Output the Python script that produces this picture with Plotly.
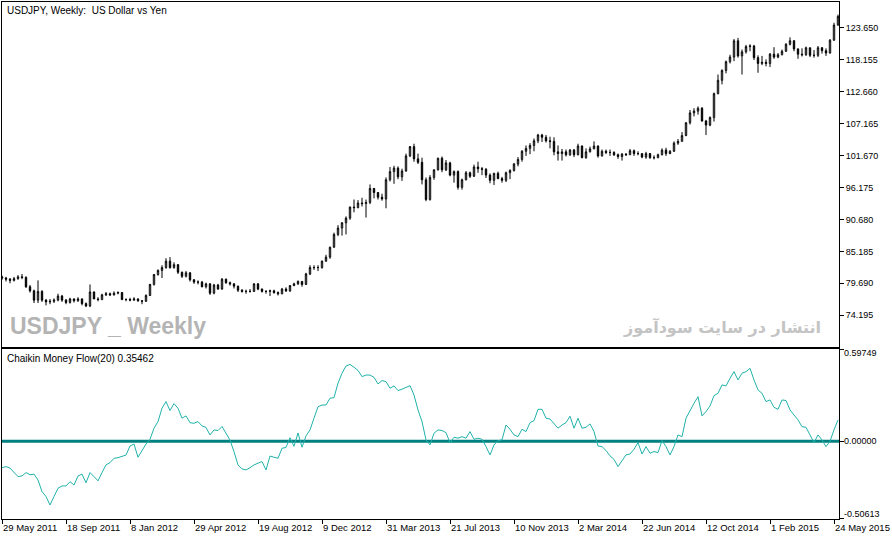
import pandas as pd
import plotly.graph_objects as go

# ---------------- data ----------------
dates = pd.date_range("2011-05-29", periods=210, freq="7D")

opens = [
    80.8, 80.6, 80.4, 80.2, 80.5, 80.8, 80.7, 79.1, 78.4, 76.8,
    78.3, 76.8, 76.5, 76.6, 76.8, 77.5, 76.8, 76.4, 77.0, 76.7,
    77.0, 76.2, 75.8, 78.2, 77.0, 76.9, 77.7, 77.9, 77.7, 78.0,
    78.1, 76.9, 76.9, 76.8, 77.0, 76.7, 76.6, 77.6, 79.5, 81.2,
    81.9, 82.4, 83.5, 82.4, 82.9, 81.6, 80.9, 81.5, 80.3, 79.9,
    79.9, 79.1, 79.6, 78.0, 79.4, 78.7, 80.4, 79.8, 79.6, 79.2,
    78.5, 78.3, 78.3, 78.3, 79.6, 78.7, 78.3, 78.3, 78.4, 78.1,
    77.9, 78.7, 78.4, 79.3, 79.6, 80.0, 79.5, 81.3, 82.4, 82.4,
    82.4, 83.5, 84.2, 85.9, 88.1, 89.2, 90.1, 90.9, 92.8, 92.7,
    93.5, 93.4, 93.6, 96.0, 95.3, 94.5, 94.2, 97.5, 98.9, 99.5,
    98.0, 99.0, 101.6, 103.2, 101.1, 100.5, 97.5, 94.1, 97.9, 99.2,
    101.2, 99.2, 100.4, 98.3, 98.9, 96.2, 97.5, 98.7, 98.1, 99.7,
    99.4, 99.3, 98.3, 97.4, 98.6, 97.7, 97.4, 98.7, 99.1, 100.2,
    101.0, 102.4, 102.9, 103.4, 104.2, 105.2, 104.8, 104.2, 104.1, 102.3,
    102.0, 102.3, 101.8, 102.6, 101.8, 103.3, 101.3, 102.3, 102.8, 103.3,
    101.6, 102.4, 102.2, 102.2, 101.8, 101.5, 101.9, 101.8, 102.5, 102.0,
    102.0, 101.4, 102.0, 101.3, 101.3, 101.8, 102.6, 102.0, 102.4, 103.8,
    104.1, 105.1, 107.3, 109.0, 109.3, 109.8, 107.6, 106.9, 108.2, 112.3,
    114.6, 116.3, 117.8, 118.6, 121.4, 118.8, 119.5, 120.4, 120.5, 118.5,
    117.5, 117.7, 117.5, 119.1, 118.6, 119.0, 119.6, 120.8, 121.4, 120.0,
    119.1, 119.0, 120.2, 118.9, 118.9, 120.2, 119.7, 119.3, 121.5, 124.1,
]

highs = [
    81.0, 80.8, 80.6, 80.8, 81.1, 81.3, 80.9, 79.4, 78.6, 80.2,
    78.5, 77.0, 77.0, 77.1, 77.9, 77.7, 77.0, 77.2, 77.1, 77.3,
    77.1, 76.4, 79.5, 78.3, 77.3, 77.9, 78.2, 78.1, 78.3, 78.3,
    78.2, 77.1, 77.2, 77.3, 77.1, 76.8, 77.8, 79.6, 81.3, 82.1,
    82.8, 84.0, 84.2, 83.3, 83.0, 81.7, 81.8, 81.6, 80.4, 80.2,
    80.1, 79.8, 79.7, 79.6, 79.6, 80.6, 80.5, 80.0, 79.7, 79.3,
    78.7, 78.6, 78.7, 79.7, 79.7, 78.8, 78.5, 78.6, 78.6, 78.3,
    78.9, 79.0, 79.4, 79.8, 80.2, 80.1, 81.5, 82.8, 82.8, 82.8,
    83.6, 84.6, 86.0, 88.4, 89.7, 90.2, 91.2, 92.9, 94.1, 94.0,
    94.4, 94.1, 96.7, 96.1, 95.4, 95.1, 97.9, 99.7, 99.9, 99.8,
    99.4, 102.0, 103.3, 103.7, 102.0, 101.3, 97.9, 98.3, 99.3, 101.3,
    101.5, 100.9, 100.6, 99.1, 99.1, 97.7, 99.0, 98.9, 100.1, 100.6,
    99.7, 99.5, 98.6, 98.7, 98.9, 98.0, 98.9, 99.3, 100.4, 101.4,
    102.6, 103.4, 103.8, 104.6, 105.4, 105.4, 105.2, 104.9, 104.8, 103.4,
    102.8, 102.7, 102.8, 102.8, 103.7, 103.4, 102.9, 103.2, 104.1, 103.4,
    102.7, 102.7, 102.7, 102.4, 102.0, 102.1, 102.1, 102.8, 102.7, 102.4,
    102.0, 102.3, 102.1, 101.7, 102.0, 102.9, 103.0, 102.6, 104.1, 104.5,
    105.7, 107.4, 109.5, 109.8, 110.1, 110.0, 107.8, 108.4, 112.5, 115.6,
    116.5, 118.0, 119.0, 121.7, 121.9, 119.9, 120.7, 120.8, 120.7, 118.9,
    118.8, 118.2, 119.3, 120.3, 119.3, 119.9, 121.0, 122.0, 121.5, 120.1,
    120.1, 120.4, 120.2, 119.8, 120.5, 120.3, 120.1, 121.7, 124.5, 125.9,
]

lows = [
    80.3, 80.0, 79.7, 80.0, 80.3, 80.4, 78.9, 78.1, 76.3, 76.3,
    76.5, 75.9, 76.1, 76.3, 76.6, 76.5, 76.1, 76.2, 76.4, 76.5,
    75.9, 75.6, 75.6, 77.0, 76.6, 76.8, 77.5, 77.5, 77.6, 77.8,
    76.8, 76.6, 76.6, 76.7, 76.5, 76.1, 76.5, 77.5, 79.3, 81.0,
    80.6, 82.2, 82.2, 82.2, 81.3, 80.6, 80.7, 80.0, 79.6, 79.5,
    79.0, 78.8, 77.7, 77.8, 78.6, 78.6, 79.6, 79.3, 78.8, 78.2,
    78.1, 77.9, 78.1, 78.2, 78.5, 78.1, 77.9, 77.5, 77.9, 77.6,
    77.8, 78.2, 78.2, 79.2, 79.4, 79.1, 79.4, 81.1, 82.0, 81.8,
    82.2, 83.4, 83.9, 85.8, 87.8, 87.9, 88.1, 90.6, 91.9, 92.6,
    92.9, 91.0, 93.3, 94.3, 94.1, 93.9, 92.6, 97.2, 96.8, 97.6,
    97.3, 98.9, 101.4, 100.6, 100.2, 96.7, 93.8, 93.9, 97.5, 99.1,
    98.8, 99.0, 98.1, 97.0, 95.8, 95.8, 97.4, 97.8, 98.0, 98.7,
    98.3, 97.8, 96.9, 96.6, 97.6, 97.0, 97.1, 97.6, 98.9, 99.8,
    100.6, 101.6, 101.9, 102.4, 103.8, 104.0, 103.9, 102.9, 101.7, 100.8,
    100.8, 101.5, 101.6, 101.4, 101.7, 101.2, 101.1, 102.2, 102.8, 101.3,
    101.5, 101.9, 101.6, 101.6, 101.1, 100.8, 101.6, 101.8, 101.6, 101.7,
    101.2, 101.1, 101.1, 101.0, 101.2, 101.7, 101.6, 101.9, 102.3, 103.5,
    104.1, 105.0, 107.0, 108.4, 108.7, 107.5, 105.2, 106.7, 107.5, 112.2,
    113.9, 115.8, 117.5, 117.9, 118.5, 115.6, 119.2, 119.6, 118.1, 115.9,
    117.2, 117.0, 116.9, 118.3, 118.4, 118.9, 119.5, 120.6, 119.6, 118.3,
    118.7, 118.8, 118.6, 118.5, 118.6, 119.2, 118.8, 119.2, 121.4, 124.0,
]

closes = [
    80.6, 80.4, 80.2, 80.5, 80.8, 80.7, 79.1, 78.4, 76.8, 78.3,
    76.8, 76.5, 76.6, 76.8, 77.5, 76.8, 76.4, 77.0, 76.7, 77.0,
    76.2, 75.8, 78.2, 77.0, 76.9, 77.7, 77.9, 77.7, 78.0, 78.1,
    76.9, 76.9, 76.8, 77.0, 76.7, 76.6, 77.6, 79.5, 81.2, 81.9,
    82.4, 83.5, 82.4, 82.9, 81.6, 80.9, 81.5, 80.3, 79.9, 79.9,
    79.1, 79.6, 78.0, 79.4, 78.7, 80.4, 79.8, 79.6, 79.2, 78.5,
    78.3, 78.3, 78.3, 79.6, 78.7, 78.3, 78.3, 78.4, 78.1, 77.9,
    78.7, 78.4, 79.3, 79.6, 80.0, 79.5, 81.3, 82.4, 82.4, 82.4,
    83.5, 84.2, 85.9, 88.1, 89.2, 90.1, 90.9, 92.8, 92.7, 93.5,
    93.4, 93.6, 96.0, 95.3, 94.5, 94.2, 97.5, 98.9, 99.5, 98.0,
    99.0, 101.6, 103.2, 101.1, 100.5, 97.5, 94.1, 97.9, 99.2, 101.2,
    99.2, 100.4, 98.3, 98.9, 96.2, 97.5, 98.7, 98.1, 99.7, 99.4,
    99.3, 98.3, 97.4, 98.6, 97.7, 97.4, 98.7, 99.1, 100.2, 101.0,
    102.4, 102.9, 103.4, 104.2, 105.2, 104.8, 104.2, 104.1, 102.3, 102.0,
    102.3, 101.8, 102.6, 101.8, 103.3, 101.3, 102.3, 102.8, 103.3, 101.6,
    102.4, 102.2, 102.2, 101.8, 101.5, 101.9, 101.8, 102.5, 102.0, 102.0,
    101.4, 102.0, 101.3, 101.3, 101.8, 102.6, 102.0, 102.4, 103.8, 104.1,
    105.1, 107.3, 109.0, 109.3, 109.8, 107.6, 106.9, 108.2, 112.3, 114.6,
    116.3, 117.8, 118.6, 121.4, 118.8, 119.5, 120.4, 120.5, 118.5, 117.5,
    117.7, 117.5, 119.1, 118.6, 119.0, 119.6, 120.8, 121.4, 120.0, 119.1,
    119.0, 120.2, 118.9, 118.9, 120.2, 119.7, 119.3, 121.5, 124.1, 125.6,
]

cmf = [
    -0.172, -0.165, -0.175, -0.204, -0.230, -0.226, -0.204, -0.218, -0.214, -0.252,
    -0.328, -0.360, -0.415, -0.360, -0.306, -0.291, -0.291, -0.263, -0.285, -0.226,
    -0.214, -0.270, -0.204, -0.230, -0.258, -0.204, -0.154, -0.139, -0.111, -0.107,
    -0.096, -0.090, -0.031, -0.018, -0.104, -0.057, -0.018, 0.013, 0.085, 0.128,
    0.215, 0.258, 0.200, 0.245, 0.215, 0.150, 0.165, 0.121, 0.117, 0.128,
    0.100, 0.090, 0.041, 0.074, 0.070, 0.096, 0.052, 0.008, -0.068, -0.154,
    -0.180, -0.187, -0.172, -0.154, -0.143, -0.132, -0.187, -0.096, -0.104, -0.111,
    -0.046, -0.040, 0.023, -0.033, 0.054, -0.039, 0.035, 0.074, 0.150, 0.225,
    0.236, 0.236, 0.280, 0.284, 0.378, 0.443, 0.490, 0.500, 0.482, 0.461,
    0.421, 0.431, 0.431, 0.416, 0.373, 0.395, 0.388, 0.345, 0.360, 0.330,
    0.339, 0.352, 0.362, 0.301, 0.204, 0.128, 0.009, -0.024, 0.052, 0.074,
    0.070, 0.056, -0.009, 0.026, 0.020, 0.030, 0.020, 0.063, 0.013, 0.020,
    0.013, -0.035, -0.089, -0.024, 0.004, 0.009, 0.106, 0.078, 0.041, 0.030,
    0.078, 0.063, 0.121, 0.134, 0.208, 0.208, 0.150, 0.145, 0.113, 0.085,
    0.106, 0.121, 0.163, 0.085, 0.150, 0.085, 0.091, 0.113, 0.063, -0.031,
    -0.035, -0.060, -0.095, -0.118, -0.165, -0.130, -0.089, -0.083, -0.052, -0.009,
    -0.083, -0.035, -0.078, -0.067, -0.074, 0.004, -0.035, -0.089, -0.035, 0.041,
    0.030, 0.150, 0.204, 0.247, 0.290, 0.165, 0.193, 0.230, 0.297, 0.312,
    0.367, 0.360, 0.410, 0.453, 0.399, 0.443, 0.453, 0.475, 0.399, 0.334,
    0.312, 0.258, 0.269, 0.221, 0.208, 0.269, 0.265, 0.204, 0.171, 0.139,
    0.095, 0.091, 0.041, -0.009, 0.041, 0.009, -0.035, 0.000, 0.074, 0.139,
]

price_ticks = [74.195, 79.690, 85.185, 90.680, 96.175, 101.670, 107.165, 112.660, 118.155, 123.650]
price_labels = ["74.195", "79.690", "85.185", "90.680", "96.175", "101.670", "107.165", "112.660", "118.155", "123.650"]

cmf_ticks = [0.59749, 0.0, -0.50613]
cmf_labels = ["0.59749", "0.00000", "-0.50613"]

date_ticks = ["2011-05-29", "2011-09-18", "2012-01-08", "2012-04-29", "2012-08-19", "2012-12-09",
              "2013-03-31", "2013-07-21", "2013-11-10", "2014-03-02", "2014-06-22", "2014-10-12",
              "2015-02-01", "2015-05-24"]
date_labels = ["29 May 2011", "18 Sep 2011", "8 Jan 2012", "29 Apr 2012", "19 Aug 2012", "9 Dec 2012",
               "31 Mar 2013", "21 Jul 2013", "10 Nov 2013", "2 Mar 2014", "22 Jun 2014", "12 Oct 2014",
               "1 Feb 2015", "24 May 2015"]

chart_title = "USDJPY, Weekly:  US Dollar vs Yen"
indicator_title = "Chaikin Money Flow(20) 0.35462"
watermark_left = "USDJPY _ Weekly"
watermark_right = "انتشار در سایت سودآموز"

# ---------------- figure ----------------
FONT = "Liberation Sans, Arial, sans-serif"

fig = go.Figure()

fig.add_trace(go.Candlestick(
    x=dates, open=opens, high=highs, low=lows, close=closes,
    xaxis="x", yaxis="y",
    increasing=dict(line=dict(color="black", width=1), fillcolor="white"),
    decreasing=dict(line=dict(color="black", width=1), fillcolor="black"),
    whiskerwidth=0, hoverinfo="skip", showlegend=False,
))

fig.add_trace(go.Scatter(
    x=dates, y=cmf, xaxis="x2", yaxis="y2", mode="lines",
    line=dict(color="#20B2AA", width=1), hoverinfo="skip", showlegend=False,
))

# zero level of the indicator
fig.add_shape(type="line", xref="paper", yref="y2", x0=0, x1=1, y0=0, y1=0,
              line=dict(color="#008080", width=3), layer="below")

axis_common = dict(showline=True, mirror=True, linecolor="black", linewidth=1,
                   showgrid=False, zeroline=False)

main_dom = [0.3327, 1.0]
ind_dom = [0.0, 0.3279]

fig.update_layout(
    width=892, height=541,
    margin=dict(l=2, r=53, t=2, b=22),
    paper_bgcolor="white", plot_bgcolor="white",
    showlegend=False,
    boxgap=0.5,
    font=dict(family=FONT, size=10, color="black"),
    xaxis=dict(type="date", domain=[0, 1], anchor="y",
               range=["2011-05-29", "2015-06-01 18:00"],
               showticklabels=False, ticks="", rangeslider=dict(visible=False),
               **axis_common),
    yaxis=dict(domain=main_dom, anchor="x", side="right", range=[68.74, 128.07],
               tickvals=price_ticks, ticktext=price_labels,
               ticks="outside", ticklen=4, tickcolor="black",
               tickfont=dict(family=FONT, size=9, color="black"),
               **axis_common),
    xaxis2=dict(type="date", domain=[0, 1], anchor="y2", matches="x",
                tickvals=date_ticks, ticktext=date_labels,
                ticks="outside", ticklen=4, tickcolor="black",
                ticklabelposition="outside right",
                tickfont=dict(family=FONT, size=9.5, color="black"),
                rangeslider=dict(visible=False),
                **axis_common),
    yaxis2=dict(domain=ind_dom, anchor="x2", side="right", range=[-0.50613, 0.59749],
                tickvals=cmf_ticks, ticktext=["", "", ""],
                ticks="outside", ticklen=4, tickcolor="black",
                **axis_common),
)

ann = []
ann.append(dict(text=chart_title, xref="paper", yref="paper", x=0, y=1,
                xanchor="left", yanchor="top", xshift=3, yshift=-1, showarrow=False,
                font=dict(family=FONT, size=10, color="black")))
ann.append(dict(text=indicator_title, xref="paper", yref="paper", x=0, y=ind_dom[1],
                xanchor="left", yanchor="top", xshift=3, yshift=-2, showarrow=False,
                font=dict(family=FONT, size=10, color="black")))
ann.append(dict(text="<b>" + watermark_left + "</b>", xref="paper", yref="paper", x=0, y=0.3733,
                xanchor="left", yanchor="middle", xshift=6, showarrow=False,
                font=dict(family="Liberation Sans Narrow, Liberation Sans, sans-serif", size=23, color="#b4b4b4")))
ann.append(dict(text="<b>" + watermark_right + "</b>", xref="paper", yref="paper", x=1, y=0.3714,
                xanchor="right", yanchor="middle", xshift=-16, showarrow=False,
                font=dict(family="DejaVu Sans, sans-serif", size=16, color="#c4c4c4")))
for val, lab, ys in zip(cmf_ticks, cmf_labels, [-4, 0, 5]):
    ann.append(dict(text=lab, xref="paper", yref="y2", x=1, y=val,
                    xanchor="left", yanchor="middle", xshift=3, yshift=ys, showarrow=False,
                    font=dict(family=FONT, size=9, color="black")))
fig.update_layout(annotations=ann)

fig.write_html("out.html", config={"displayModeBar": False})

# remove the browser's default page margin so the figure sits at the window origin
with open("out.html", "r", encoding="utf-8") as fh:
    html = fh.read()
html = html.replace("<head>", "<head><style>html,body{margin:0;padding:0;overflow:hidden;}</style>", 1)
with open("out.html", "w", encoding="utf-8") as fh:
    fh.write(html)
